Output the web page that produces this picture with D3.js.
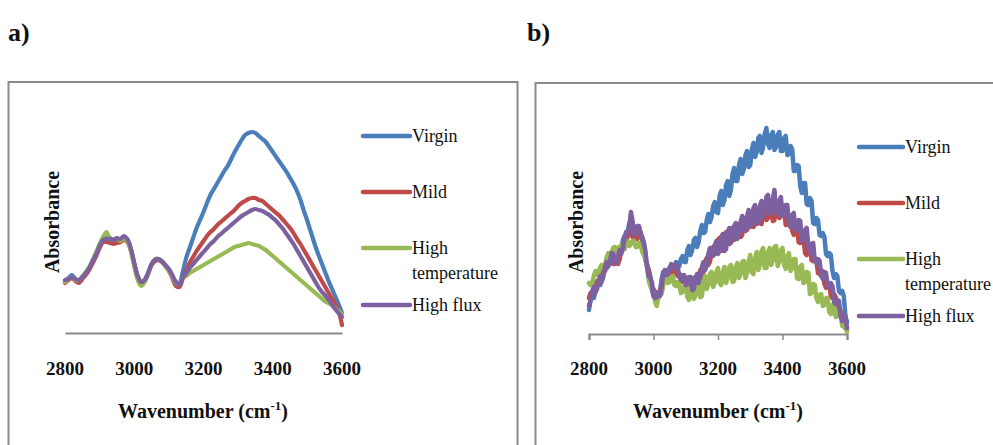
<!DOCTYPE html>
<html>
<head>
<meta charset="utf-8">
<script src="https://cdn.jsdelivr.net/npm/d3@7/dist/d3.min.js"></script>
<style>
  html, body { margin: 0; padding: 0; background: #fff; }
  svg { display: block; }
</style>
</head>
<body>
<svg id="fig" width="993" height="445"></svg>
<script>
// Wavenumber grids (cm-1): 10 cm-1 step for panel a, 5 cm-1 step for panel b
const wavenumbersA = d3.range(2800, 3601, 10);
const wavenumbersB = d3.range(2800, 3601, 5);
const xTicks = [2800, 3000, 3200, 3400, 3600];
const seriesNames = ["Virgin", "Mild", "High temperature", "High flux"];
const seriesColors = ["#4a7ebb", "#be4b48", "#98b954", "#7d60a0"];
const SERIF = "'Liberation Serif', 'Times New Roman', Times, serif";

// Panel a) absorbance (arbitrary units)
const virginA = [
  0.26,0.275,0.29,0.27,0.26,0.28,0.30,0.325,0.36,0.395,
  0.435,0.47,0.48,0.475,0.465,0.47,0.465,0.48,0.465,0.42,
  0.345,0.28,0.25,0.26,0.295,0.34,0.36,0.365,0.355,0.335,
  0.315,0.285,0.255,0.25,0.305,0.375,0.425,0.475,0.525,0.565,
  0.605,0.65,0.69,0.72,0.75,0.78,0.81,0.835,0.87,0.905,
  0.935,0.965,0.99,1.0,1.005,1.0,0.985,0.97,0.955,0.93,
  0.905,0.88,0.855,0.83,0.805,0.775,0.745,0.71,0.665,0.61,
  0.56,0.505,0.45,0.40,0.355,0.31,0.265,0.225,0.185,0.145,
  0.10];
const mildA = [
  0.25,0.265,0.275,0.26,0.25,0.27,0.29,0.315,0.35,0.385,
  0.425,0.455,0.455,0.45,0.445,0.45,0.455,0.465,0.455,0.415,
  0.345,0.285,0.255,0.265,0.30,0.34,0.36,0.365,0.355,0.335,
  0.31,0.275,0.235,0.23,0.27,0.31,0.35,0.38,0.41,0.435,
  0.46,0.485,0.505,0.52,0.54,0.555,0.57,0.585,0.60,0.615,
  0.635,0.65,0.66,0.67,0.675,0.675,0.665,0.66,0.645,0.63,
  0.615,0.60,0.585,0.565,0.545,0.525,0.50,0.47,0.445,0.415,
  0.385,0.355,0.325,0.295,0.265,0.235,0.205,0.175,0.145,0.11,
  0.04];
const highTempA = [
  0.255,0.27,0.28,0.265,0.265,0.28,0.305,0.33,0.365,0.405,
  0.445,0.48,0.505,0.47,0.465,0.475,0.46,0.475,0.46,0.41,
  0.335,0.265,0.235,0.255,0.295,0.345,0.37,0.37,0.36,0.335,
  0.31,0.28,0.25,0.245,0.275,0.285,0.30,0.31,0.32,0.33,
  0.34,0.35,0.36,0.37,0.38,0.39,0.40,0.41,0.42,0.43,
  0.435,0.44,0.445,0.45,0.445,0.44,0.435,0.425,0.415,0.40,
  0.385,0.37,0.355,0.34,0.325,0.31,0.295,0.28,0.265,0.25,
  0.235,0.22,0.205,0.19,0.175,0.16,0.15,0.14,0.125,0.11,
  0.095];
const highFluxA = [
  0.265,0.27,0.28,0.27,0.265,0.28,0.30,0.325,0.36,0.395,
  0.435,0.465,0.47,0.47,0.465,0.475,0.47,0.485,0.47,0.425,
  0.35,0.285,0.255,0.265,0.30,0.345,0.365,0.37,0.36,0.34,
  0.32,0.29,0.255,0.24,0.275,0.30,0.325,0.345,0.365,0.385,
  0.405,0.425,0.445,0.46,0.48,0.495,0.51,0.525,0.54,0.555,
  0.57,0.585,0.595,0.605,0.615,0.62,0.615,0.61,0.60,0.59,
  0.575,0.56,0.54,0.52,0.495,0.47,0.445,0.415,0.385,0.355,
  0.325,0.295,0.265,0.235,0.21,0.19,0.17,0.145,0.12,0.10,
  0.08];

// Panel b) absorbance (arbitrary units), noisy spectra; one row per 100 cm-1
const virginB = [
  0.12,0.17,0.20,0.18,0.21,0.25,0.27,0.245,0.27,0.31,0.34,0.33,0.34,0.385,0.41,0.38,0.39,0.42,0.43,0.405,
  0.42,0.47,0.49,0.48,0.51,0.555,0.57,0.505,0.49,0.525,0.54,0.50,0.49,0.485,0.46,0.38,0.34,0.325,0.29,0.22,
  0.19,0.21,0.20,0.185,0.21,0.27,0.31,0.275,0.29,0.32,0.33,0.305,0.31,0.345,0.36,0.33,0.34,0.375,0.39,0.36,
  0.36,0.42,0.44,0.395,0.42,0.47,0.48,0.435,0.46,0.515,0.545,0.505,0.51,0.57,0.60,0.56,0.585,0.64,0.66,0.61,
  0.605,0.69,0.715,0.645,0.67,0.745,0.765,0.69,0.72,0.80,0.83,0.765,0.765,0.845,0.875,0.80,0.825,0.895,0.915,0.835,
  0.845,0.925,0.955,0.885,0.91,0.98,0.99,0.905,0.935,1.0,1.03,0.95,0.93,0.995,1.01,0.92,0.935,0.995,1.01,0.915,
  0.915,0.98,0.99,0.895,0.90,0.94,0.925,0.815,0.815,0.845,0.84,0.74,0.705,0.755,0.755,0.65,0.645,0.68,0.665,0.555,
  0.55,0.58,0.57,0.495,0.49,0.505,0.485,0.40,0.39,0.405,0.395,0.315,0.28,0.30,0.29,0.215,0.205,0.215,0.19,0.09,
  0.06];
const mildB = [
  0.18,0.205,0.195,0.215,0.25,0.265,0.25,0.26,0.30,0.325,0.315,0.345,0.38,0.395,0.375,0.35,0.35,0.365,0.35,0.375,
  0.415,0.435,0.425,0.45,0.49,0.515,0.51,0.485,0.49,0.50,0.475,0.49,0.51,0.48,0.415,0.37,0.35,0.315,0.25,0.23,
  0.225,0.21,0.165,0.18,0.21,0.25,0.26,0.27,0.31,0.315,0.285,0.31,0.34,0.34,0.305,0.29,0.30,0.295,0.26,0.26,
  0.28,0.28,0.225,0.235,0.27,0.28,0.24,0.245,0.29,0.32,0.29,0.31,0.36,0.38,0.345,0.36,0.415,0.435,0.40,0.42,
  0.47,0.48,0.415,0.435,0.485,0.51,0.455,0.45,0.51,0.53,0.47,0.49,0.54,0.55,0.485,0.495,0.56,0.58,0.52,0.54,
  0.59,0.60,0.535,0.55,0.595,0.615,0.555,0.55,0.61,0.63,0.57,0.58,0.62,0.63,0.565,0.57,0.63,0.645,0.58,0.59,
  0.63,0.625,0.545,0.55,0.585,0.59,0.515,0.495,0.54,0.54,0.46,0.455,0.49,0.485,0.405,0.395,0.44,0.445,0.37,0.365,
  0.38,0.37,0.305,0.30,0.32,0.31,0.25,0.23,0.25,0.25,0.19,0.18,0.20,0.185,0.115,0.095,0.115,0.105,0.04,0.03,
  0.02];
const highTempB = [
  0.255,0.245,0.255,0.29,0.315,0.295,0.31,0.335,0.345,0.33,0.345,0.385,0.405,0.39,0.405,0.43,0.435,0.405,0.41,0.435,
  0.445,0.425,0.425,0.45,0.465,0.44,0.45,0.465,0.465,0.435,0.435,0.455,0.455,0.41,0.395,0.375,0.335,0.27,0.24,0.23,
  0.21,0.16,0.14,0.185,0.21,0.20,0.24,0.275,0.29,0.255,0.26,0.285,0.29,0.245,0.24,0.26,0.25,0.205,0.21,0.235,
  0.265,0.185,0.17,0.23,0.25,0.175,0.19,0.245,0.26,0.185,0.19,0.265,0.29,0.225,0.245,0.30,0.31,0.235,0.255,0.31,
  0.33,0.255,0.245,0.31,0.335,0.255,0.28,0.335,0.345,0.26,0.265,0.335,0.355,0.28,0.30,0.36,0.365,0.28,0.305,0.365,
  0.395,0.31,0.30,0.38,0.41,0.32,0.345,0.415,0.43,0.33,0.33,0.41,0.43,0.345,0.37,0.435,0.44,0.34,0.36,0.42,
  0.43,0.345,0.325,0.39,0.405,0.315,0.33,0.375,0.375,0.28,0.275,0.335,0.345,0.255,0.26,0.31,0.305,0.20,0.205,0.25,
  0.245,0.18,0.16,0.195,0.20,0.14,0.145,0.18,0.18,0.11,0.10,0.145,0.15,0.085,0.09,0.115,0.11,0.04,0.04,0.06,
  0.01];
const highFluxB = [
  0.14,0.17,0.215,0.235,0.21,0.225,0.27,0.29,0.265,0.29,0.34,0.36,0.34,0.365,0.405,0.40,0.355,0.355,0.39,0.42,
  0.40,0.43,0.475,0.51,0.50,0.53,0.61,0.565,0.495,0.505,0.54,0.54,0.50,0.47,0.455,0.415,0.335,0.29,0.28,0.26,
  0.19,0.18,0.185,0.21,0.19,0.23,0.30,0.32,0.295,0.30,0.33,0.35,0.33,0.33,0.345,0.335,0.285,0.27,0.29,0.295,
  0.245,0.25,0.285,0.285,0.22,0.225,0.28,0.30,0.255,0.285,0.335,0.36,0.32,0.345,0.40,0.43,0.39,0.39,0.445,0.465,
  0.40,0.42,0.485,0.50,0.415,0.425,0.505,0.53,0.455,0.475,0.54,0.555,0.475,0.50,0.56,0.59,0.52,0.515,0.59,0.62,
  0.535,0.56,0.63,0.645,0.55,0.555,0.64,0.665,0.58,0.61,0.685,0.695,0.60,0.615,0.675,0.72,0.615,0.595,0.665,0.685,
  0.59,0.60,0.645,0.645,0.545,0.535,0.595,0.605,0.515,0.52,0.57,0.565,0.465,0.475,0.52,0.53,0.44,0.405,0.45,0.455,
  0.365,0.355,0.375,0.365,0.29,0.275,0.31,0.305,0.235,0.235,0.255,0.24,0.16,0.15,0.17,0.165,0.09,0.065,0.095,0.09,
  0.03];

const svg = d3.select("#fig");

function label(sel) {
  return sel.attr("font-family", SERIF).attr("fill", "#111");
}

// Figure letters
label(svg.append("text")).attr("x", 8).attr("y", 41).attr("font-size", 26).attr("font-weight", "bold").text("a)");
label(svg.append("text")).attr("x", 527).attr("y", 41).attr("font-size", 26).attr("font-weight", "bold").text("b)");

function drawPanel(cfg) {
  const g = svg.append("g");
  // chart frame
  g.append("rect")
    .attr("x", cfg.frame[0]).attr("y", cfg.frame[1])
    .attr("width", cfg.frame[2]).attr("height", cfg.frame[3])
    .attr("fill", "#fff").attr("stroke", "#8a8a8a").attr("stroke-width", 2);

  const x = d3.scaleLinear().domain([2800, 3600]).range([cfg.x0, cfg.x1]);
  const y = d3.scaleLinear().domain([0, 1.25]).range([cfg.y0, cfg.y0 - 250]);

  const axis = d3.axisBottom(x).tickValues(xTicks).tickSize(cfg.tickLen).tickFormat("");
  const ax = g.append("g").attr("transform", `translate(0,${cfg.y0})`).call(axis);
  ax.select(".domain").attr("stroke", "#8a8a8a").attr("stroke-width", 2.2);
  ax.selectAll(".tick line").attr("stroke", "#8a8a8a").attr("stroke-width", 1.5)
    .attr("display", cfg.tickLen > 0 ? null : "none");

  label(g.selectAll("text.tickLabel").data(xTicks).join("text"))
    .attr("class", "tickLabel")
    .attr("x", d => x(d)).attr("y", 375)
    .attr("text-anchor", "middle").attr("font-size", 19).attr("font-weight", "bold")
    .text(d => d);

  const line = d3.line()
    .x((d, i) => x(cfg.wn[i]))
    .y(d => y(d))
    .curve(cfg.curve);

  cfg.series.forEach((vals, i) => {
    g.append("path").datum(vals)
      .attr("d", line)
      .attr("fill", "none")
      .attr("stroke", seriesColors[i])
      .attr("stroke-width", cfg.lineWidth)
      .attr("stroke-linejoin", "round")
      .attr("stroke-linecap", "round");
  });

  // axis titles
  label(g.append("text"))
    .attr("transform", `translate(${cfg.yTitleX},222) rotate(-90)`)
    .attr("text-anchor", "middle").attr("font-size", 20).attr("font-weight", "bold")
    .attr("dy", "0.35em")
    .text("Absorbance");

  const xt = label(g.append("text"))
    .attr("x", cfg.xTitleX).attr("y", 418)
    .attr("text-anchor", "middle").attr("font-size", 20).attr("font-weight", "bold");
  xt.append("tspan").text("Wavenumber (cm");
  xt.append("tspan").attr("font-size", 13).attr("dy", -8).text("-1");
  xt.append("tspan").attr("dy", 8).text(")");

  // legend
  const lg = g.append("g");
  seriesNames.forEach((name, i) => {
    const ly = cfg.legendY[i];
    lg.append("line")
      .attr("x1", cfg.legendX).attr("x2", cfg.legendX + cfg.legendLen)
      .attr("y1", ly).attr("y2", ly)
      .attr("stroke", seriesColors[i]).attr("stroke-width", 4.5)
      .attr("stroke-linecap", "round");
    const words = name === "High temperature" ? ["High", "temperature"] : [name];
    words.forEach((w, j) => {
      label(lg.append("text"))
        .attr("x", cfg.legendX + cfg.legendLen + 2)
        .attr("y", ly + 6 + j * 25)
        .attr("font-size", 18)
        .text(w);
    });
  });
}

drawPanel({
  frame: [8.5, 82, 509, 380],
  x0: 65, x1: 342, y0: 333, tickLen: 0,
  wn: wavenumbersA,
  curve: d3.curveCatmullRom.alpha(0.5),
  lineWidth: 4.2,
  series: [virginA, mildA, highTempA, highFluxA],
  yTitleX: 52, xTitleX: 203,
  legendX: 363, legendLen: 47,
  legendY: [136, 192, 248, 305]
});

drawPanel({
  frame: [535.5, 83, 480, 380],
  x0: 589, x1: 847, y0: 334, tickLen: 6,
  wn: wavenumbersB,
  curve: d3.curveLinear,
  lineWidth: 4.5,
  series: [virginB, mildB, highTempB, highFluxB],
  yTitleX: 576, xTitleX: 718,
  legendX: 859, legendLen: 44,
  legendY: [147, 203, 259, 316]
});
</script>
</body>
</html>
